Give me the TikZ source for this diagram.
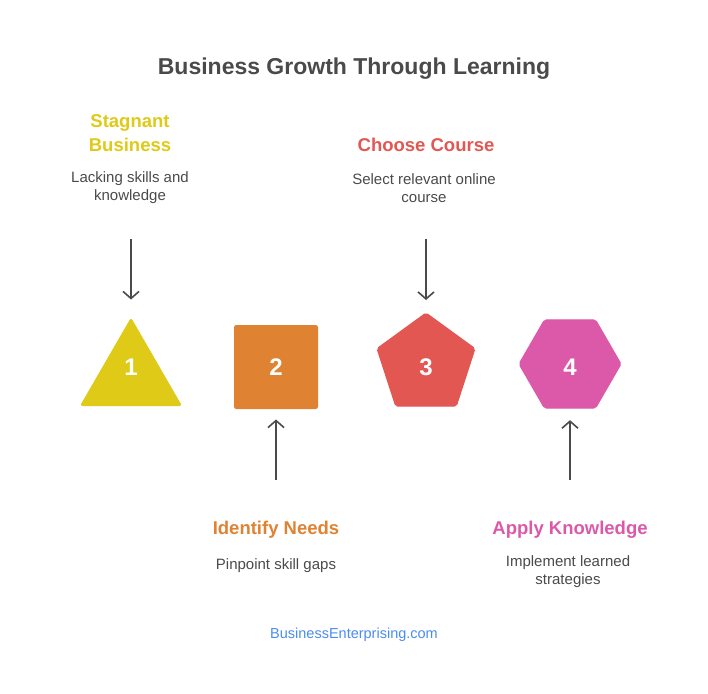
\documentclass[tikz,border=0pt]{standalone}
\usepackage{fontspec}
\setmainfont{Liberation Sans}
\usetikzlibrary{shapes.geometric,arrows.meta}

\definecolor{yel}{HTML}{DFCA17}
\definecolor{ora}{HTML}{DF8231}
\definecolor{red}{HTML}{E35752}
\definecolor{pnk}{HTML}{DC59A9}
\definecolor{txt}{HTML}{4A4A4A}
\definecolor{lnk}{HTML}{4A8CF0}

\tikzset{
  shp/.style={fill=#1, draw=#1, line width=1pt, rounded corners=2pt, inner sep=0pt, outer sep=0pt},
  num/.style={text=white, font=\fontsize{24}{26}\selectfont\bfseries},
  head/.style={text=#1, font=\fontsize{18.5}{23.5}\selectfont\bfseries, align=center},
  desc/.style={text=txt, font=\fontsize{15}{18}\selectfont, align=center},
  arr/.style={draw=txt, line width=1.6pt, -{Straight Barb[length=7pt,width=16pt]}}
}

\begin{document}
\begin{tikzpicture}[x=1pt, y=-1pt]
\useasboundingbox (0,0) rectangle (708,693);

\node[text=txt, font=\fontsize{23}{26}\selectfont\bfseries] (title) at (354,68.5) {Business Growth Through Learning};

% shapes
\node[shp=yel, regular polygon, regular polygon sides=3, minimum size=116] (s1) at (131,376.5) {};
\node[shp=ora, rectangle, minimum size=83] (s2) at (276,367) {};
\node[shp=red, regular polygon, regular polygon sides=5, minimum size=103] (s3) at (426,364.5) {};
\node[shp=pnk, regular polygon, regular polygon sides=6, minimum size=102] (s4) at (570,364) {};

\node[num] (n1) at (131,367) {1};
\node[num] (n2) at (276,367) {2};
\node[num] (n3) at (426,367) {3};
\node[num] (n4) at (570,367) {4};

% texts above
\node[head=yel] (h1) at (130,133) {Stagnant\\Business};
\node[desc] (d1) at (130,188) {Lacking skills and\\knowledge};
\node[head=red] (h3) at (426,145) {Choose Course};
\node[desc] (d3) at (424,188) {Select relevant online\\course};

% texts below
\node[head=ora] (h2) at (276,529.5) {Identify Needs};
\node[desc] (d2) at (276,566) {Pinpoint skill gaps};
\node[head=pnk] (h4) at (570,529.5) {Apply Knowledge};
\node[desc] (d4) at (568,572) {Implement learned\\strategies};

\node[text=lnk, font=\fontsize{14.5}{16}\selectfont] (web) at (354,635) {BusinessEnterprising.com};

% arrows
\coordinate (a1) at (131,239);
\coordinate (a2) at (276,480);
\coordinate (a3) at (426,239);
\coordinate (a4) at (570,480);
\draw[arr, shorten >=19pt] (a1) -- (s1.north);
\draw[arr, shorten >=13pt] (a3) -- (s3.north);
\draw[arr, shorten >=11pt] (a2) -- (s2.south);
\draw[arr, shorten >=12pt] (a4) -- (s4.south);

\end{tikzpicture}
\end{document}
